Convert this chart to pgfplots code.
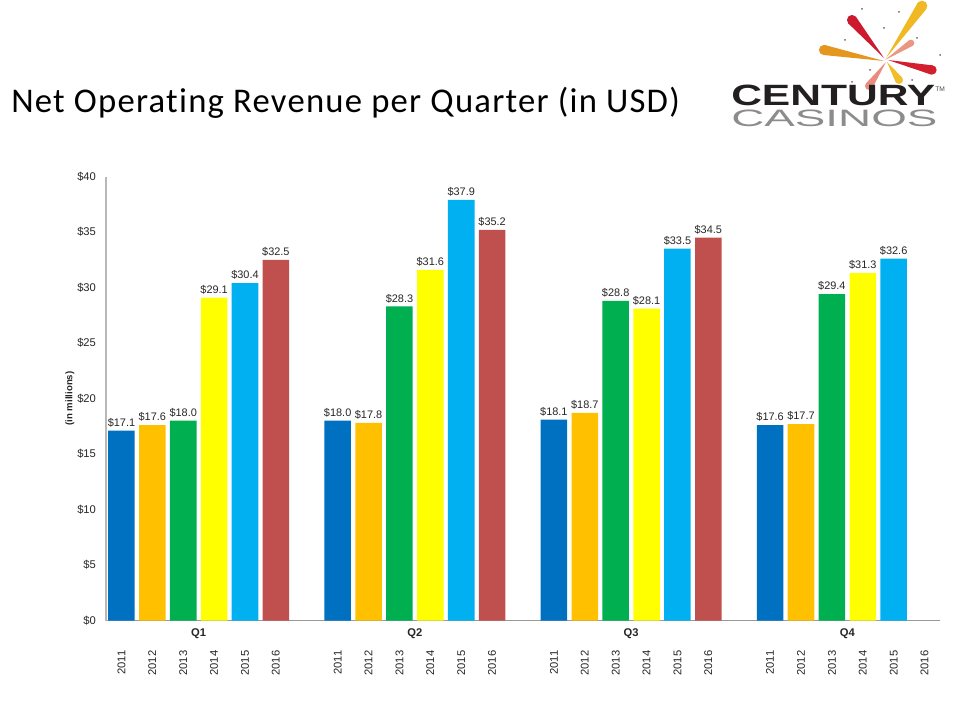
\documentclass[border=0pt]{standalone}
\usepackage{fontspec}
\setmainfont{Liberation Sans}
\newfontfamily\titlefont{Carlito}[LetterSpace=3.6,Ligatures=NoCommon]
\usepackage{graphicx}
\usepackage{pgfplots}
\pgfplotsset{compat=1.18}
\usetikzlibrary{calc}
\definecolor{c2011}{HTML}{0070C0}
\definecolor{c2012}{HTML}{FFC000}
\definecolor{c2013}{HTML}{00B050}
\definecolor{c2014}{HTML}{FFFF00}
\definecolor{c2015}{HTML}{00B0F0}
\definecolor{c2016}{HTML}{C0504D}
\definecolor{txt}{HTML}{262626}
\definecolor{logodark}{RGB}{35,31,32}
\definecolor{logogray}{RGB}{140,140,140}
\newcommand\ray[4]{\fill[#1] (#2) -- ($(#3)!#4!90:(#2)$) -- ($(#3)!#4!-90:(#2)$) -- cycle; \fill[#1] (#3) circle (#4);}
\begin{document}
\begin{tikzpicture}
\path[use as bounding box] (0,0) rectangle (720pt,540pt);
\begin{scope}[x=0.75pt,y=-0.75pt,yshift=540pt]
  % title
  \node[anchor=base west,inner sep=0pt,font=\titlefont\fontsize{26}{30}\selectfont] at (11,113) {Net Operating Revenue per Quarter (in USD)};
  % logo burst
  \ray{color={rgb,255:red,240;green,185;blue,35}}{886,58}{922,6}{4pt}
  \ray{color={rgb,255:red,205;green,25;blue,45}}{884,58}{852,20}{3.8pt}
  \ray{color={rgb,255:red,228;green,150;blue,30}}{884,61}{824,50}{3.8pt}
  \ray{color={rgb,255:red,232;green,140;blue,125}}{886,62}{869,86}{3pt}
  \ray{color={rgb,255:red,210;green,30;blue,45}}{888,60}{932,70}{3.5pt}
  \ray{color={rgb,255:red,236;green,150;blue,130}}{885,60}{911,43}{2.5pt}
  \ray{color={rgb,255:red,240;green,190;blue,40}}{887,62}{899,80}{3pt}
  \foreach \p in {(862,9),(845,40),(884,28),(899,12),(940,55),(870,70),(912,80),(852,82),(917,38)}
    \fill[black!60] \p circle (1);
  % logo text
  \node[anchor=base west,inner sep=0pt] at (731,106) {\rlap{\raisebox{-15.75pt}{\color{logogray}\scalebox{1.93}[1]{\fontsize{17.8}{19}\selectfont CASINOS}}}\color{logodark}\scalebox{1.45}[1]{\bfseries\fontsize{22}{24}\selectfont CENTURY}\raisebox{11pt}{\color{black!70}\fontsize{5}{6}\selectfont TM}};
\end{scope}
\begin{axis}[
  at={(79.5pt,74.6pt)}, anchor=south west,
  scale only axis, width=625.5pt, height=333pt,
  xmin=-0.5, xmax=26.5, ymin=0, ymax=40,
  axis x line*=bottom, axis y line*=left,
  x axis line style={draw=black!40, line width=0.8pt},
  y axis line style={draw=black!28, line width=1.3pt},
  major tick length=0pt,
  ytick={0,5,...,40},
  yticklabel={\$\pgfmathprintnumber{\tick}},
  yticklabel style={xshift=-4pt},
  xtick={0,1,2,3,4,5,7,8,9,10,11,12,14,15,16,17,18,19,21,22,23,24,25,26},
  xticklabels={2011,2012,2013,2014,2015,2016,2011,2012,2013,2014,2015,2016,2011,2012,2013,2014,2015,2016,2011,2012,2013,2014,2015,2016},
  xticklabel style={rotate=90, anchor=east},
  xticklabel shift=19pt,
  ticklabel style={font=\fontsize{8.4}{10}\selectfont, color=txt},
  /pgf/number format/assume math mode=true,
  ylabel={(in millions)},
  ylabel style={at={(axis description cs:0,0.5)}, anchor=center, yshift=27pt, font=\bfseries\fontsize{7.2}{8}\selectfont, color=txt},
  ybar, bar width=0.86,
  nodes near coords={\$\pgfmathprintnumber[fixed,fixed zerofill,precision=1]{\pgfplotspointmeta}},
  nodes near coords style={font=\fontsize{8.2}{9}\selectfont, color=txt, inner sep=2.5pt},
  clip=false,
]
\addplot[fill=c2011, draw=none, bar shift=0pt] coordinates {(0,17.1) (7,18.0) (14,18.1) (21,17.6)};
\addplot[fill=c2012, draw=none, bar shift=0pt] coordinates {(1,17.6) (8,17.8) (15,18.7) (22,17.7)};
\addplot[fill=c2013, draw=none, bar shift=0pt] coordinates {(2,18.0) (9,28.3) (16,28.8) (23,29.4)};
\addplot[fill=c2014, draw=none, bar shift=0pt] coordinates {(3,29.1) (10,31.6) (17,28.1) (24,31.3)};
\addplot[fill=c2015, draw=none, bar shift=0pt] coordinates {(4,30.4) (11,37.9) (18,33.5) (25,32.6)};
\addplot[fill=c2016, draw=none, bar shift=0pt] coordinates {(5,32.5) (12,35.2) (19,34.5)};
\node[font=\bfseries\fontsize{8.4}{10}\selectfont, color=txt] at (axis cs:2.5,0) [yshift=-10pt] {Q1};
\node[font=\bfseries\fontsize{8.4}{10}\selectfont, color=txt] at (axis cs:9.5,0) [yshift=-10pt] {Q2};
\node[font=\bfseries\fontsize{8.4}{10}\selectfont, color=txt] at (axis cs:16.5,0) [yshift=-10pt] {Q3};
\node[font=\bfseries\fontsize{8.4}{10}\selectfont, color=txt] at (axis cs:23.5,0) [yshift=-10pt] {Q4};
\end{axis}
\end{tikzpicture}
\end{document}
